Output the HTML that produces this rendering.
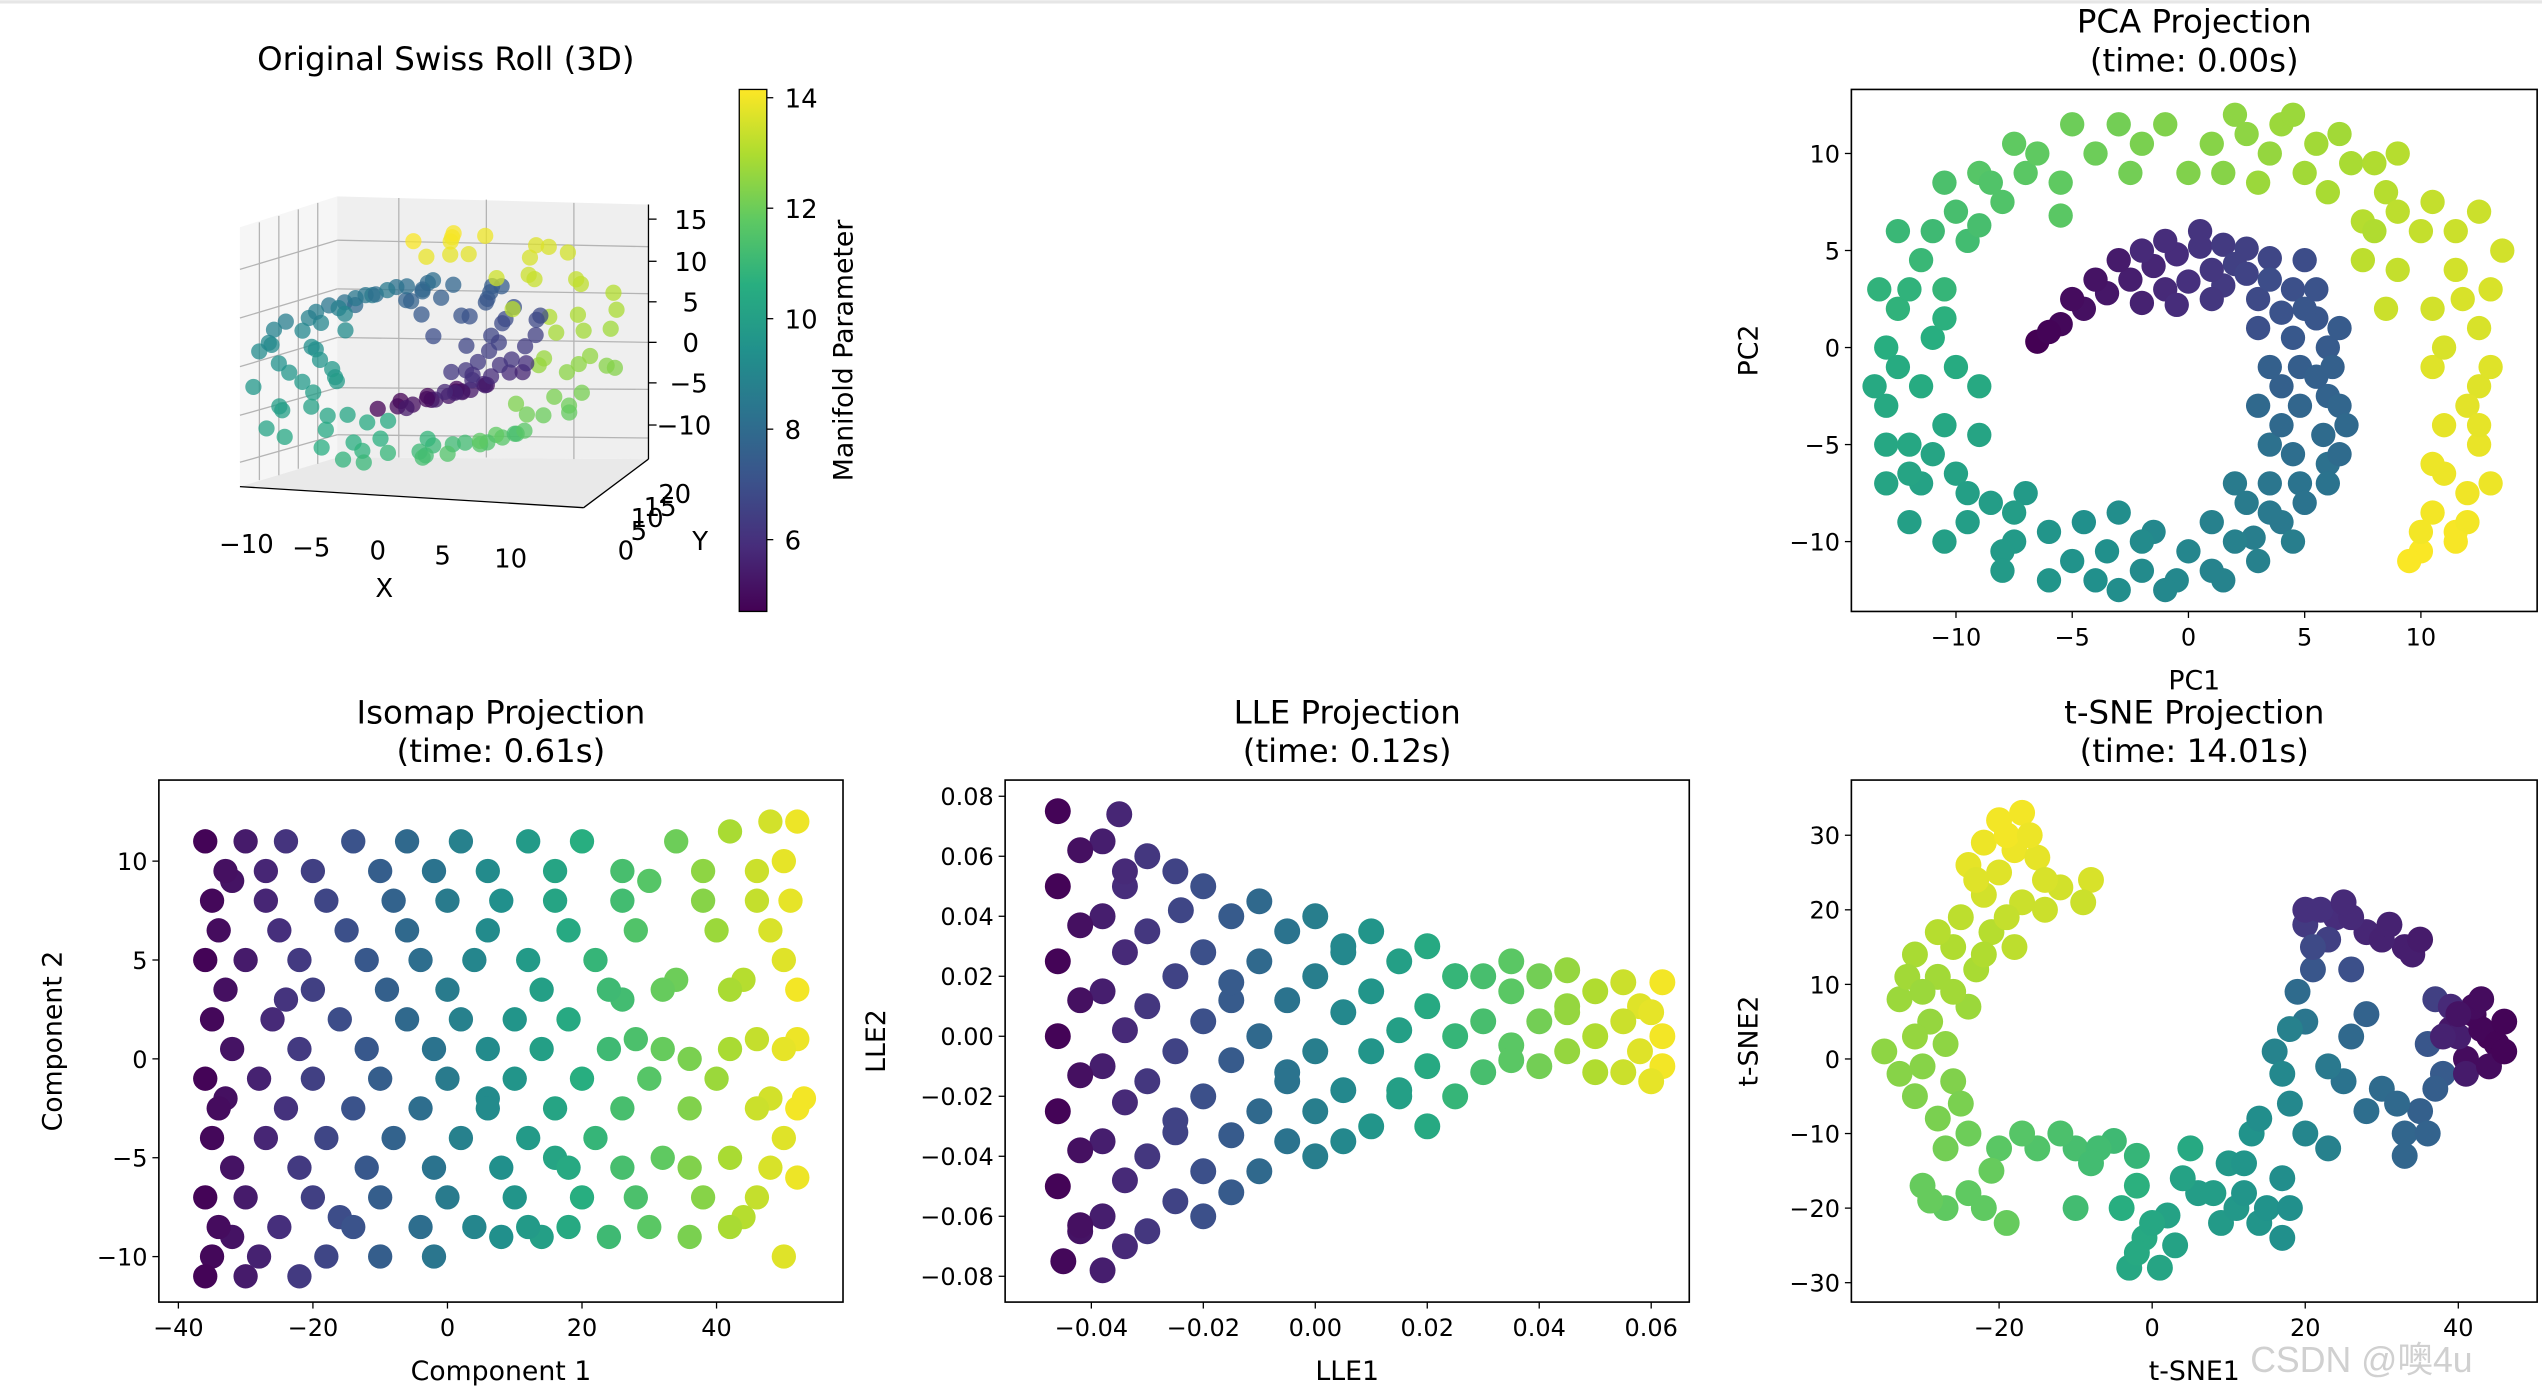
<!DOCTYPE html>
<html><head><meta charset="utf-8"><title>Swiss Roll Manifold Learning</title>
<style>
html,body{margin:0;padding:0;background:#fff;}
svg{display:block;font-family:"DejaVu Sans","Liberation Sans","Noto Sans CJK SC",sans-serif;}
</style></head>
<body>
<svg id="fig" width="2542" height="1398" viewBox="0 0 1568 862" xmlns="http://www.w3.org/2000/svg">
<rect x="0" y="0" width="1568" height="862" fill="#fff"/>
<rect x="0" y="0" width="1568" height="2" fill="#e6e6e6"/>
<g id="swiss3d">
  <text x="275" y="43" font-size="20" text-anchor="middle">Original Swiss Roll (3D)</text>
  <polygon points="148,140 208,121 208,282 148,300" fill="#f6f6f6"/>
  <polygon points="208,121 400,126 400,283 208,282" fill="#efefef"/>
  <polygon points="148,300 208,282 400,283 360,313" fill="#e9e9e9"/>
  <g id="grid3d" stroke="#b4b4b4" stroke-width="0.8" fill="none"></g>
  <g id="pts3d"></g>
  <line x1="148" y1="300" x2="360" y2="313" stroke="#000" stroke-width="0.8"/>
  <line x1="360" y1="313" x2="400" y2="283" stroke="#000" stroke-width="0.8"/>
  <line x1="400" y1="126" x2="400" y2="283" stroke="#000" stroke-width="0.8"/>
  <g font-size="16">
    <text x="152" y="341" text-anchor="middle">−10</text><text x="192" y="343" text-anchor="middle">−5</text>
    <text x="233" y="345" text-anchor="middle">0</text><text x="273" y="348" text-anchor="middle">5</text>
    <text x="315" y="350" text-anchor="middle">10</text>
  </g>
  <text x="237" y="368" font-size="16" text-anchor="middle">X</text>
  <g font-size="16">
    <text x="381" y="345">0</text><text x="389" y="333">5</text><text x="389" y="325">10</text>
    <text x="397" y="318">15</text><text x="406" y="310">20</text>
  </g>
  <text x="427" y="339" font-size="16">Y</text>
  <g font-size="16">
    <text x="416" y="141">15</text><text x="416" y="167">10</text><text x="421" y="192">5</text>
    <text x="421" y="217">0</text><text x="413" y="242">−5</text><text x="405" y="268">−10</text>
  </g>
  <g stroke="#000" stroke-width="0.8">
    <line x1="400" y1="135" x2="405" y2="135"/><line x1="400" y1="161" x2="405" y2="161"/><line x1="400" y1="186" x2="405" y2="186"/>
    <line x1="400" y1="211" x2="405" y2="211"/><line x1="400" y1="236" x2="405" y2="236"/><line x1="400" y1="262" x2="405" y2="262"/>
  </g>
</g>
<g id="cbar">
  <defs><linearGradient id="vir" x1="0" y1="1" x2="0" y2="0">
    <stop offset="0" stop-color="#440154"/><stop offset="0.125" stop-color="#472d7b"/><stop offset="0.25" stop-color="#3b528b"/>
    <stop offset="0.375" stop-color="#2c728e"/><stop offset="0.5" stop-color="#21918c"/><stop offset="0.625" stop-color="#28ae80"/>
    <stop offset="0.75" stop-color="#5ec962"/><stop offset="0.875" stop-color="#addc30"/><stop offset="1" stop-color="#fde725"/>
  </linearGradient></defs>
  <rect x="456" y="55" width="17" height="322" fill="url(#vir)" stroke="#000" stroke-width="0.8"/>
  <g id="cbticks" font-size="16"></g>
  <text transform="translate(526,216) rotate(-90)" font-size="16.5" text-anchor="middle">Manifold Parameter</text>
</g>
<g id="panels"></g>
<text x="1388" y="846" font-size="22" fill="#d0d0d0" font-family="Liberation Sans, Noto Sans CJK SC, sans-serif">CSDN @噢4u</text>
</svg>
<script>
// ---------- data ----------
const cbTicks = [6, 8, 10, 12, 14];
// 3D swiss roll samples: manifold parameter t and height h
const roll_t = [4.7,4.8,4.9,5.0,5.1,5.2,5.3,5.4,5.5,5.6,5.8,5.9,6.1,6.3,6.5,6.7,6.9,7.1,7.3,7.5,7.7,7.8,8.0,8.2,8.4,8.6,8.8,9.0,9.2,9.4,9.6,9.8,10.0,10.2,10.4,10.6,10.8,11.0,11.2,11.4,11.6,11.8,12.0,12.2,12.4,12.6,12.8,13.0,13.2,13.4,13.6,13.8,14.0,14.1,8.1,9.1,9.7,10.3,11.1,12.5,7.4,6.2,13.5,10.9,8.7,12.9,9.9,11.5,6.8,13.9,
4.75,4.85,4.95,5.05,5.15,5.25,5.35,5.45,5.55,5.65,5.75,5.85,5.95,6.05,6.15,6.25,6.35,6.45,6.55,6.65,6.75,6.85,6.95,7.05,7.15,7.25,7.35,7.45,7.55,7.65,7.75,7.85,7.95,8.05,8.15,8.25,8.35,8.45,8.55,8.65,8.75,8.85,8.95,9.05,9.15,9.25,9.35,9.45,9.55,9.65,9.75,9.85,9.95,10.05,10.15,10.25,10.35,10.45,10.55,10.65,10.75,10.85,10.95,11.05,11.15,11.25,11.35,11.45,11.55,11.65,11.75,11.85,11.95,12.05,12.15,12.25,12.35,12.45,12.55,12.65,12.75,12.85,12.95,13.05,13.15,13.25,13.35,13.45,13.55,13.65,13.75,13.85,13.95,14.05];
const roll_h = [8,12,5,15,9,11,14,6,10,13,16,8,12,7,18,10,14,9,15,19,6,11,16,4,12,17,8,13,3,15,10,18,6,12,16,9,2,14,7,19,11,5,15,9,17,3,12,7,16,10,19,6,13,9,14,4,18,2,15,11,17,5,20,8,2,19,13,3,20,16,
3,17,10,6,19,13,1,15,8,20,4,12,18,7,14,2,16,9,11,5,19,13,0.5,17,8,14,3,20,10,6,16,12,1,18,9,15,4,11,19,7,13,2,17,10,5,20,14,8,16,3,12,18,6,11,1,15,9,19,4,13,7,17,2,10,16,5,20,12,8,14,3,18,11,6,15,1,19,9,13,4,17,7,12,20,2,16,10,5,14,18,8,3,11,15];
// PCA points [x, y, t]
const pca = [[-6.5,0.3,4.7],[-5.5,1.2,4.9],[-4.5,2,5.1],[-3.5,2.8,5.3],[-2.5,3.5,5.5],[-1.5,4.2,5.7],[-0.5,4.8,5.9],[0.5,5.2,6.1],[1.5,5.3,6.3],[2.5,5.1,6.5],[3.5,4.6,6.7],[-2,2.3,5.6],[0,3.4,6],[1.5,3.2,6.3],[3,2.5,6.8],[4.5,3,7],[5.5,1.5,7.2],[4.5,0.5,7.3],[6,0,7.4],[4.8,-1,7.5],[6,-2.5,7.7],[4.8,-3,7.8],[5.8,-4.5,8],[4.5,-5.5,8.1],[3.5,-7,8.4],[4.8,-7,8.3],[2.5,-8,8.6],[2.8,-9.8,8.7],[1,-9,8.8],[0,-10.5,9],[-1.5,-9.5,9.1],[-2,-11.5,9.2],[-3.5,-10.5,9.4],[-5,-11,9.5],[-6,-9.5,9.6],[-7.5,-10,9.8],[-8.5,-8,9.9],[-9.5,-9,9.95],[-10,-6.5,10.1],[-11.5,-7,10.1],[-12,-5,10.3],[-10.5,-4,10.3],[-13,-3,10.4],[-11.5,-2,10.5],[-13,0,10.6],[-11,0.5,10.6],[-12.5,2,10.8],[-10.5,3,10.9],[-11.5,4.5,11],[-9.5,5.5,11.2],[-10,7,11.3],[-8,7.5,11.5],[-7,9,11.7],[-5.5,8.5,11.8],[-4,10,12],[-2,10.5,12.2],[-1,11.5,12.3],[1,10.5,12.4],[2,12,12.5],[3.5,10,12.6],[4,11.5,12.7],[5.5,10.5,12.8],[7,9.5,12.9],[6,8,12.9],[8.5,8,13.1],[7.5,6.5,13.1],[10,6,13.3],[9,4,13.3],[11.5,4,13.5],[10.5,2,13.5],[12.5,1,13.6],[10.5,-1,13.7],[12.5,-2,13.7],[11,-4,13.8],[12.5,-5,13.85],[11,-6.5,13.9],[12,-7.5,13.95],[10.5,-8.5,14],[10,-10.5,14.1],[9.5,-11,14.1],[11.5,-9.5,14.05],[8,6,13.0],[3,8.5,12.7],[-9,-2,10.4],[-3,-8.5,9.3],[2,-7,8.6],[3.5,-5,8.2],[-5.5,6.8,11.7],[-2,5,5.8],[1,4,6.2],[6,-6,8.2],[-7,-7.5,9.8],[-12,-9,10],[-0.5,-12,9.1],[4,-9,8.5],[-9,9,11.6],[0,9,12.3],[12,-9,14],[11.8,2.5,13.6],
[-12.5,-1,10.5],[-10,-1,10.5],[-12,-6.5,10.2],[-9.5,-7.5,10],[-8,-10.5,9.8],[-6,-12,9.6],[-4,-12,9.4],[-2,-10,9.2],[1,-11.5,8.9],[2,-10,8.8],[3.5,-8.5,8.5],[5,-8,8.3],[6.5,-5.5,8],[6.5,-3,7.8],[6.2,-1,7.6],[4,-2,7.6],[4,-4,7.9],[6.5,1,7.4],[5,2,7.2],[3.5,3.5,6.9],[5,4.5,6.9],[2,4.3,6.5],[-1,5.5,5.9],[0.5,6,6.1],[-3,4.5,5.4],[-4,3.5,5.2],[-5,2.5,5],[-6,0.8,4.8],[-13,-5,10.3],[-11,-5.5,10.2],[-10.5,1.5,10.7],[-12,3,10.8],[-11,6,11.1],[-9,6.3,11.3],[-8.5,8.5,11.5],[-6.5,10,11.8],[-3,11.5,12.1],[-2.5,9,12.1],[1.5,9,12.4],[2.5,11,12.5],[5,9,12.8],[6.5,11,12.8],[8,9.5,13],[9,7,13.2],[10.5,7.5,13.3],[11.5,6,13.4],[13,3,13.6],[11,0,13.6],[13,-1,13.7],[12,-3,13.75],[13,-7,13.9],[10.5,-6,13.9],[11.5,-10,14.05],[-7.5,-8.5,9.9],[-9,-4.5,10.2],[-1,-12.5,9.1],[3,-11,8.8],[-4.5,-9,9.4],
[-1,3,5.8],[1,2.5,6.2],[2.5,3.8,6.6],[-0.5,2.2,5.9],[3,1,7.0],[4,1.8,7.1],[5.5,-1.5,7.6],[5.5,3,7.1],[3,-3,7.9],[3.5,-1,7.6],[6.8,-4,7.9],[6,-7,8.3],[4.5,-10,8.7],[1.5,-12,8.9],[-3,-12.5,9.3],[-8,-11.5,9.8],[-10.5,-10,10],[-13,-7,10.2],[-13.5,-2,10.4],[-13.3,3,10.8],[-12.5,6,11],[-10.5,8.5,11.4],[-7.5,10.5,11.8],[-5,11.5,12],[4.5,12,12.7],[9,10,13.1],[12.5,7,13.4],[13.5,5,13.5],[12.5,-4,13.8],[10,-9.5,14],[7.5,4.5,13.2],[8.5,2,13.4]];
// Isomap points [x, y, t]
const iso = [[-36,11,4.8],[-30,11,5.4],[-24,11,6.1],[-14,11,7.1],[-6,11,7.9],[2,11,8.8],[12,11,9.8],[20,11,10.6],[34,11,12.0],[42,11.5,12.9],[48,12,13.5],[52,12,13.9],
[-35,8,4.9],[-27,8,5.7],[-18,8,6.7],[-8,8,7.7],[0,8,8.6],[8,8,9.4],[16,8,10.2],[26,8,11.2],[38,8,12.4],[46,8,13.3],[51,8,13.8],
[-36,5,4.8],[-30,5,5.4],[-22,5,6.3],[-12,5,7.3],[-4,5,8.1],[4,5,9.0],[12,5,9.8],[22,5,10.9],[34,4,12.0],[44,4,13.1],[50,5,13.7],
[-35,2,4.9],[-26,2,5.8],[-16,2,6.9],[-6,2,7.9],[2,2,8.8],[10,2,9.6],[18,2,10.4],[28,1,11.4],[36,0,12.2],[46,1,13.3],[52,1,13.9],
[-36,-1,4.8],[-28,-1,5.6],[-20,-1,6.5],[-10,-1,7.5],[0,-1,8.6],[10,-1,9.6],[20,-1,10.6],[30,-1,11.6],[40,-1,12.7],[48,-2,13.5],[53,-2,14.0],
[-35,-4,4.9],[-27,-4,5.7],[-18,-4,6.7],[-8,-4,7.7],[2,-4,8.8],[12,-4,9.8],[22,-4,10.9],[32,-5,11.8],[42,-5,12.9],[50,-4,13.7],
[-36,-7,4.8],[-30,-7,5.4],[-20,-7,6.5],[-10,-7,7.5],[0,-7,8.6],[10,-7,9.6],[20,-7,10.6],[28,-7,11.4],[38,-7,12.4],[46,-7,13.3],[52,-6,13.9],
[-35,-10,4.9],[-28,-10,5.6],[-18,-10,6.7],[-10,-10,7.5],[-2,-10,8.4],[8,-9,9.4],[14,-9,10.0],[24,-9,11.1],[36,-9,12.2],[50,-10,13.7],
[-32,9,5.2],[-33,-2,5.1],[-32,-9,5.2],[-16,-8,6.9],[6,-2,9.2],[26,3,11.2],[44,-8,13.1],[16,-5,10.2],[-24,3,6.1],[30,9,11.6],
[-33,9.5,5.1],[-27,9.5,5.7],[-20,9.5,6.5],[-10,9.5,7.5],[-2,9.5,8.3],[6,9.5,9.2],[16,9.5,10.2],[26,9.5,11.3],[38,9.5,12.5],[46,9.5,13.4],[50,10,13.8],
[-34,6.5,5.0],[-25,6.5,5.95],[-15,6.5,7.0],[-6,6.5,7.9],[6,6.5,9.2],[18,6.5,10.4],[28,6.5,11.5],[40,6.5,12.7],[48,6.5,13.6],
[-33,3.5,5.1],[-20,3.5,6.5],[-9,3.5,7.6],[0,3.5,8.6],[14,3.5,10.0],[24,3.5,11.1],[32,3.5,11.9],[42,3.5,12.9],[52,3.5,14.0],
[-32,0.5,5.2],[-22,0.5,6.3],[-12,0.5,7.3],[-2,0.5,8.3],[6,0.5,9.2],[14,0.5,10.0],[24,0.5,11.1],[32,0.5,11.9],[42,0.5,12.9],[50,0.5,13.8],
[-34,-2.5,5.0],[-24,-2.5,6.05],[-14,-2.5,7.1],[-4,-2.5,8.1],[6,-2.5,9.2],[16,-2.5,10.2],[26,-2.5,11.3],[36,-2.5,12.3],[46,-2.5,13.4],[52,-2.5,14.0],
[-32,-5.5,5.2],[-22,-5.5,6.3],[-12,-5.5,7.3],[-2,-5.5,8.3],[8,-5.5,9.4],[18,-5.5,10.4],[26,-5.5,11.3],[36,-5.5,12.3],[48,-5.5,13.6],
[-34,-8.5,5.0],[-25,-8.5,5.95],[-14,-8.5,7.1],[-4,-8.5,8.1],[4,-8.5,9.0],[12,-8.5,9.8],[18,-8.5,10.4],[30,-8.5,11.7],[42,-8.5,12.9],
[-36,-11,4.8],[-30,-11,5.4],[-22,-11,6.3]];
// LLE points [x, y, t]
const lle = [[-0.046,0.075,4.8],[-0.046,0.05,4.8],[-0.046,0.025,4.8],[-0.046,0,4.8],[-0.046,-0.025,4.8],[-0.046,-0.05,4.8],[-0.045,-0.075,4.9],
[-0.038,0.065,5.5],[-0.038,0.04,5.5],[-0.038,0.015,5.5],[-0.038,-0.01,5.5],[-0.038,-0.035,5.5],[-0.038,-0.06,5.5],[-0.038,-0.078,5.5],
[-0.03,0.06,6.2],[-0.03,0.035,6.2],[-0.03,0.01,6.2],[-0.03,-0.015,6.2],[-0.03,-0.04,6.2],[-0.03,-0.065,6.2],
[-0.02,0.05,7.0],[-0.02,0.028,7.0],[-0.02,0.005,7.0],[-0.02,-0.02,7.0],[-0.02,-0.045,7.0],[-0.02,-0.06,7.0],
[-0.01,0.045,7.9],[-0.01,0.025,7.9],[-0.01,0,7.9],[-0.01,-0.025,7.9],[-0.01,-0.045,7.9],
[0,0.04,8.7],[0,0.02,8.7],[0,-0.005,8.7],[0,-0.025,8.7],[0,-0.04,8.7],
[0.01,0.035,9.6],[0.01,0.015,9.6],[0.01,-0.005,9.6],[0.01,-0.03,9.6],
[0.02,0.03,10.4],[0.02,0.01,10.4],[0.02,-0.01,10.4],[0.02,-0.03,10.4],
[0.03,0.02,11.3],[0.03,0.005,11.3],[0.03,-0.012,11.3],
[0.04,0.02,12.1],[0.04,0.005,12.1],[0.04,-0.01,12.1],
[0.05,0.015,13.0],[0.05,0,13.0],[0.05,-0.012,13.0],
[0.058,0.01,13.7],[0.058,-0.005,13.7],[0.062,0.018,14.0],[0.062,0,14.0],[0.062,-0.01,14.0],
[-0.034,0.05,5.9],[-0.025,-0.028,6.6],[-0.015,0.012,7.4],[-0.005,-0.012,8.3],[0.005,0.028,9.1],[0.015,-0.018,10.0],[0.025,0.02,10.9],[0.035,-0.003,11.7],[0.045,0.01,12.6],[-0.042,-0.065,5.2],[-0.035,0.074,5.7],[-0.024,0.042,6.7],
[-0.042,0.062,5.1],[-0.042,0.037,5.1],[-0.042,0.012,5.1],[-0.042,-0.013,5.1],[-0.042,-0.038,5.1],[-0.042,-0.063,5.1],
[-0.034,0.055,5.8],[-0.034,0.028,5.8],[-0.034,0.002,5.8],[-0.034,-0.022,5.8],[-0.034,-0.048,5.8],[-0.034,-0.07,5.8],
[-0.025,0.055,6.6],[-0.025,0.02,6.6],[-0.025,-0.005,6.6],[-0.025,-0.032,6.6],[-0.025,-0.055,6.6],
[-0.015,0.04,7.4],[-0.015,0.018,7.4],[-0.015,-0.008,7.4],[-0.015,-0.033,7.4],[-0.015,-0.052,7.4],
[-0.005,0.035,8.3],[-0.005,0.012,8.3],[-0.005,-0.015,8.3],[-0.005,-0.035,8.3],
[0.005,0.03,9.1],[0.005,0.008,9.1],[0.005,-0.018,9.1],[0.005,-0.035,9.1],
[0.015,0.025,10.0],[0.015,0.002,10.0],[0.015,-0.02,10.0],
[0.025,0.02,10.9],[0.025,0,10.9],[0.025,-0.02,10.9],
[0.035,0.015,11.7],[0.035,-0.008,11.7],[0.035,0.025,11.7],
[0.045,0.022,12.6],[0.045,-0.005,12.6],[0.045,0.008,12.6],
[0.055,0.018,13.4],[0.055,0.005,13.4],[0.055,-0.012,13.4],
[0.06,0.008,13.8],[0.06,-0.015,13.8]];
// t-SNE points [x, y, t]
const tsne = [[-20,32,14],[-17,33,14],[-22,29,13.9],[-18,28,13.9],[-24,26,13.8],[-20,25,13.7],[-15,27,13.8],[-22,22,13.5],[-17,21,13.4],[-12,23,13.5],[-8,24,13.6],[-9,21,13.4],[-25,19,13.2],[-21,17,13.1],[-26,15,13],[-31,14,12.9],[-28,11,12.8],[-23,12,12.9],[-33,8,12.7],[-29,5,12.6],[-24,7,12.7],[-35,1,12.5],[-30,-1,12.4],[-26,-3,12.3],[-28,-8,12.2],[-24,-10,12],[-30,-17,11.9],[-27,-20,11.8],[-24,-18,11.8],[-20,-12,11.7],[-15,-12,11.5],[-10,-12,11.3],[-5,-11,11.1],[-2,-13,10.9],[-4,-20,10.6],[-1,-24,10.4],[-3,-28,10.3],[1,-28,10.2],[2,-21,10.1],[6,-18,9.9],[10,-14,9.7],[13,-10,9.5],[9,-22,9.8],[14,-22,9.6],[17,-24,9.4],[17,-16,9.3],[18,-6,9.1],[16,1,8.9],[20,5,8.4],[21,12,7.2],[20,18,6.3],[24,19,5.9],[28,17,5.7],[33,15,5.5],[28,6,7.7],[25,-3,8.3],[30,-4,8],[33,-10,7.8],[35,-7,7.6],[38,-2,7.4],[39,4,5.3],[42,6,4.9],[44,3,4.8],[41,0,5],[37,8,6.5],[23,-12,8.8],[-10,-20,11.2],[-19,-22,11.9],[5,-12,10.4],[-31,-5,12.3],
[-19,30,14],[-16,30,13.9],[-23,24,13.7],[-14,24,13.6],[-19,19,13.3],[-28,17,13.1],[-32,11,12.8],[-26,9,12.8],[-31,3,12.6],[-27,2,12.5],[-33,-2,12.4],[-27,-12,12.1],[-29,-19,11.9],[-22,-20,11.8],[-17,-10,11.6],[-12,-10,11.4],[-7,-12,11.2],[-2,-17,10.7],[-2,-26,10.4],[0,-22,10.3],[4,-16,10.1],[8,-18,9.9],[12,-14,9.6],[11,-20,9.7],[15,-20,9.5],[14,-8,9.3],[17,-2,9.1],[18,4,8.8],[19,9,8.0],[23,16,6.5],[20,20,6.0],[26,19,5.8],[30,16,5.6],[34,14,5.5],[26,12,7.0],[26,3,7.9],[23,-1,8.5],[28,-7,8.1],[32,-6,7.9],[36,-10,7.7],[37,-4,7.5],[36,2,7.2],[40,3,5.5],[43,4,4.85],[45,2,4.8],[42,7,5],[39,7,5.8],[33,-13,7.8],[20,-10,9],
[40,6,5.2],[43,8,5],[46,5,4.8],[38,3,5.6],[41,-2,5.4],[44,-1,5],[46,1,4.8],[22,20,6],[25,21,5.8],[31,18,5.6],[35,16,5.4],[21,15,6.8],[-18,15,13.2],[-14,20,13.4],[-22,14,13.0],[-30,9,12.7],[-25,-6,12.2],[-21,-15,11.9],[-8,-14,11.2],[3,-25,10.1],[12,-18,9.6],[18,-20,9.4]];

const vir = ["#440154","#472d7b","#3b528b","#2c728e","#21918c","#28ae80","#5ec962","#addc30","#fde725"];
const T0 = 4.71, T1 = 14.14;
function hex(c){return [parseInt(c.slice(1,3),16),parseInt(c.slice(3,5),16),parseInt(c.slice(5,7),16)];}
function cmap(t){
  let u=Math.max(0,Math.min(1,(t-T0)/(T1-T0)))*8;
  let i=Math.min(7,Math.floor(u)), f=u-i, a=hex(vir[i]), b=hex(vir[i+1]);
  return "rgb("+a.map((v,k)=>Math.round(v+(b[k]-v)*f)).join(",")+")";
}
const NS="http://www.w3.org/2000/svg";
function mk(tag, attrs, parent){const e=document.createElementNS(NS,tag);for(const k in attrs)e.setAttribute(k,attrs[k]);if(parent)parent.appendChild(e);return e;}

// colorbar ticks
const cbg=document.getElementById('cbticks');
cbTicks.forEach(v=>{
  const y=55+(14.15-v)/(14.15-4.7)*322;
  const l=mk('line',{x1:473,x2:477,y1:y,y2:y,stroke:'#000','stroke-width':0.8},cbg);
  
  
  const t=mk('text',{x:484,y:y+6},cbg);t.textContent=v;
  
  
});

// 3D grid
const g3=document.getElementById('grid3d');
[[160,137,160,296],[172,133,172,293],[184,129,184,289],[196,125,196,286],
 [246,122,246,282],[300,123,300,282],[354,125,354,283],
 [148,166,208,148],[148,196,208,178],[148,226,208,208],[148,256,208,239],[148,285,208,268],
 [208,148,400,152],[208,178,400,181],[208,208,400,211],[208,239,400,240],[208,268,400,270]].forEach(a=>{
  const l=mk('line',{x1:a[0],y1:a[1],x2:a[2],y2:a[3]},g3);
  
  
});
// 3D points
const p3=document.getElementById('pts3d');
function proj(x,y,z){return [222+8.0*x+3.2*y, 230-5.2*z-0.9*y];}
roll_t.forEach((t,i)=>{
  const h=(roll_h[i]!==undefined)?roll_h[i]:10;
  const s=proj(t*Math.cos(t),h,t*Math.sin(t));
  const c=mk('circle',{cx:s[0].toFixed(1),cy:s[1].toFixed(1),r:5,fill:cmap(t),'fill-opacity':0.75},p3);
  
  
});

// 2D panels
const panelsG=document.getElementById('panels');
function panel(o){
  const g=mk('g',{},panelsG);
  
  
  const L=o.box[0],T=o.box[1],R=o.box[2],B=o.box[3];
  const sx=v=>L+(v-o.xd[0])/(o.xd[1]-o.xd[0])*(R-L);
  const sy=v=>B-(v-o.yd[0])/(o.yd[1]-o.yd[0])*(B-T);
  const clip='clip'+o.name;
  const cp=mk('clipPath',{id:clip},g);mk('rect',{x:L,y:T,width:R-L,height:B-T},cp);
  const pg=mk('g',{'clip-path':'url(#'+clip+')'},g);
  o.pts.forEach(p=>{
    const c=mk('circle',{cx:sx(p[0]).toFixed(1),cy:sy(p[1]).toFixed(1),r:o.r,fill:cmap(p[2])},pg);
    
    
  });
  const fr=mk('rect',{x:L,y:T,width:R-L,height:B-T,fill:'none',stroke:'#000','stroke-width':1},g);
  
  
  o.xt.forEach(v=>{
    const x=sx(v);
    mk('line',{x1:x,x2:x,y1:B,y2:B+4,stroke:'#000','stroke-width':0.8},g);
    const t=mk('text',{x:x,y:B+21,'font-size':14.8,'text-anchor':'middle'},g);
    t.textContent=o.fmt(v);
    
    
  });
  o.yt.forEach(v=>{
    const y=sy(v);
    mk('line',{x1:L-4,x2:L,y1:y,y2:y,stroke:'#000','stroke-width':0.8},g);
    const t=mk('text',{x:L-7,y:y+5.5,'font-size':14.8,'text-anchor':'end'},g);
    t.textContent=o.fmt(v);
    
    
  });
  const cx=(L+R)/2;
  const t1=mk('text',{x:cx,y:T-35,'font-size':20,'text-anchor':'middle'},g);t1.textContent=o.title;
  
  
  const t2=mk('text',{x:cx,y:T-11,'font-size':20,'text-anchor':'middle'},g);t2.textContent=o.sub;
  
  
  const xl=mk('text',{x:cx,y:B+48,'font-size':16.5,'text-anchor':'middle'},g);xl.textContent=o.xl;
  
  
  const yl=mk('text',{transform:'translate('+o.ylx+','+((T+B)/2)+') rotate(-90)','font-size':16.5,'text-anchor':'middle'},g);yl.textContent=o.yl;
  
  
}
const mfmt=v=>(v<0?'−':'')+Math.abs(v);
const lfmt=v=>(v<0?'−':'')+Math.abs(v).toFixed(2);
panel({name:'pca-panel',box:[1142,55,1565,377],xd:[-14.5,15],yd:[-13.6,13.3],xt:[-10,-5,0,5,10],yt:[-10,-5,0,5,10],fmt:mfmt,pts:pca,r:7.5,title:'PCA Projection',sub:'(time: 0.00s)',xl:'PC1',yl:'PC2',ylx:1084});
panel({name:'isomap-panel',box:[98,481,520,803],xd:[-42.9,58.8],yd:[-12.3,14.1],xt:[-40,-20,0,20,40],yt:[-10,-5,0,5,10],fmt:mfmt,pts:iso,r:7.5,title:'Isomap Projection',sub:'(time: 0.61s)',xl:'Component 1',yl:'Component 2',ylx:38});
panel({name:'lle-panel',box:[620,481,1042,803],xd:[-0.0554,0.0668],yd:[-0.0886,0.0854],xt:[-0.04,-0.02,0,0.02,0.04,0.06],yt:[-0.08,-0.06,-0.04,-0.02,0,0.02,0.04,0.06,0.08],fmt:lfmt,pts:lle,r:8,title:'LLE Projection',sub:'(time: 0.12s)',xl:'LLE1',yl:'LLE2',ylx:546});
panel({name:'tsne-panel',box:[1142,481,1565,803],xd:[-39.3,50.3],yd:[-32.6,37.4],xt:[-20,0,20,40],yt:[-30,-20,-10,0,10,20,30],fmt:mfmt,pts:tsne,r:8,title:'t-SNE Projection',sub:'(time: 14.01s)',xl:'t-SNE1',yl:'t-SNE2',ylx:1084});
</script>
</body></html>
